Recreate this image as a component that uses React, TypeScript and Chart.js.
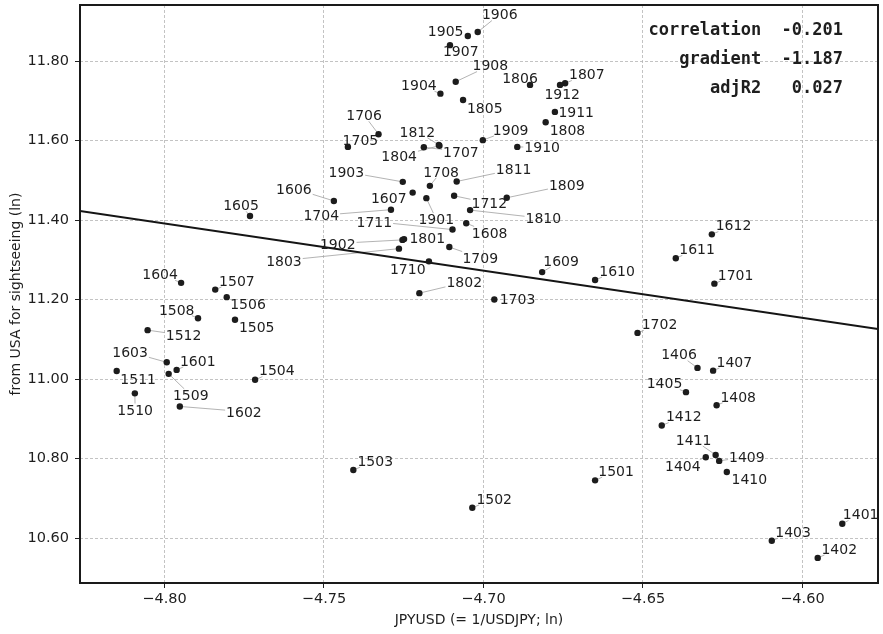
import React, { useEffect, useRef } from "react";
import { Chart, registerables } from "chart.js";

Chart.register(...registerables);

// ---- data -------------------------------------------------------------
const periods = [
  "1401", "1402", "1403", "1404", "1405", "1406", "1407", "1408", "1409", "1410", "1411", "1412",
  "1501", "1502", "1503", "1504", "1505", "1506", "1507", "1508", "1509", "1510", "1511", "1512",
  "1601", "1602", "1603", "1604", "1605", "1606", "1607", "1608", "1609", "1610", "1611", "1612",
  "1701", "1702", "1703", "1704", "1705", "1706", "1707", "1708", "1709", "1710", "1711", "1712",
  "1801", "1802", "1803", "1804", "1805", "1806", "1807", "1808", "1809", "1810", "1811", "1812",
  "1901", "1902", "1903", "1904", "1905", "1906", "1907", "1908", "1909", "1910", "1911", "1912",
];

// JPYUSD (= 1/USDJPY; ln)
const jpyusd = [
  -4.5875, -4.5952, -4.6096, -4.6303, -4.6365, -4.6329, -4.628, -4.6269, -4.6261, -4.6237, -4.6272, -4.6441,
  -4.665, -4.7035, -4.7408, -4.7716, -4.7779, -4.7805, -4.7841, -4.7895, -4.7987, -4.8093, -4.815, -4.8053,
  -4.7962, -4.7952, -4.7993, -4.7948, -4.7732, -4.7469, -4.7222, -4.7054, -4.6816, -4.665, -4.6397, -4.6284,
  -4.6276, -4.6517, -4.6966, -4.729, -4.7425, -4.7329, -4.7187, -4.7168, -4.7107, -4.7171, -4.7097, -4.7092,
  -4.7249, -4.7201, -4.7265, -4.7138, -4.7064, -4.6854, -4.6744, -4.6805, -4.6927, -4.7042, -4.7084, -4.714,
  -4.7179, -4.7254, -4.7253, -4.7135, -4.7049, -4.7018, -4.7105, -4.7087, -4.7002, -4.6894, -4.6776, -4.676,
];

// visitors from USA for sightseeing (ln)
const visitors = [
  10.636, 10.55, 10.593, 10.803, 10.967, 11.028, 11.021, 10.934, 10.794, 10.766, 10.809, 10.883,
  10.745, 10.676, 10.771, 10.998, 11.149, 11.206, 11.225, 11.153, 11.013, 10.964, 11.02, 11.123,
  11.023, 10.931, 11.042, 11.242, 11.41, 11.448, 11.469, 11.392, 11.269, 11.249, 11.304, 11.364,
  11.24, 11.116, 11.2, 11.426, 11.584, 11.616, 11.583, 11.486, 11.332, 11.296, 11.376, 11.461,
  11.352, 11.216, 11.328, 11.587, 11.702, 11.74, 11.744, 11.646, 11.456, 11.425, 11.497, 11.589,
  11.455, 11.35, 11.496, 11.718, 11.863, 11.873, 11.84, 11.748, 11.601, 11.584, 11.672, 11.74,
];

const xTicks = [-4.8, -4.75, -4.7, -4.65, -4.6];
const yTicks = [10.6, 10.8, 11.0, 11.2, 11.4, 11.6, 11.8];
const xRange = [-4.8265, -4.5763];
const yRange = [10.4868, 11.941];

const statNames = ["correlation", "gradient", "adjR2"];
const statValues = [-0.201, -1.187, 0.027];
const regressionGradient = -1.187;
const regressionIntercept = 5.694;

const xTitle = "JPYUSD (= 1/USDJPY; ln)";
const yTitle = "from USA for sightseeing (ln)";

// label placement (pixel offsets of label centre from its point; layout only)
const labelOffsets: [number, number][] = [
  [18.4, -9.5], [21.5, -9.2], [21.3, -9], [-22.9, 8.5], [-21.5, -8.8], [-18.5, -13.5],
  [21.2, -9], [21.6, -8.8], [27.7, -4.2], [22.5, 6.8], [-22, -15.2], [22, -9.2],
  [21, -9.5], [21.9, -9.2], [21.9, -9.2], [21.7, -9.5], [21.7, 7], [21.3, 6.9],
  [21.7, -8.9], [-21.3, -8.8], [22.1, 21.3], [0.3, 16.5], [21.5, 7.7], [36, 5.2],
  [21.1, -9.2], [64.1, 5.2], [-36.7, -10.3], [-21, -8.8], [-9, -11], [-40, -12.5],
  [-23.9, 5.3], [23.4, 9.5], [18.9, -11.2], [22, -9.2], [21.3, -9.1], [21.7, -9],
  [21.2, -8.9], [22, -8.8], [23.2, -0.5], [-69.7, 5.6], [12.5, -6.9], [-14.5, -19.2],
  [37.1, 4.2], [11.3, -14.3], [30.9, 10.8], [-21.2, 7.9], [-78.2, -8], [35.2, 7.5],
  [23.2, -1.5], [44.9, -10.8], [-115, 11.8], [-40.3, 10.3], [21.7, 7.5], [-10, -7.2],
  [21.7, -9.1], [21.8, 7.2], [60, -12.7], [73.3, 8.3], [57, -12.1], [-21.5, -13.5],
  [9.9, 21.2], [-64.7, 3.5], [-56.4, -10], [-21.5, -8.7], [-22.2, -5.2], [22, -17.8],
  [10.8, 6], [34.6, -16.4], [27.8, -10.5], [24.9, 0.5], [21.3, -0.4], [2.2, 9.2],
];

const FONT = "'DejaVu Sans', 'Liberation Sans', sans-serif";
const LABEL_SIZE = 14;
const TEXT_COLOR = "#1e1e1e";

const fmtTick = (v: number) => (v < 0 ? "\u2212" : "") + Math.abs(v).toFixed(2);

const labelPlugin = {
  id: "pointLabels",
  beforeDatasetsDraw(chart: any) {
    const meta = chart.getDatasetMeta(0);
    const ctx = chart.ctx;
    ctx.save();
    ctx.font = `${LABEL_SIZE}px ${FONT}`;
    ctx.strokeStyle = "#a0a0a0";
    ctx.lineWidth = 0.8;
    meta.data.forEach((pt: any, i: number) => {
      const [dx, dy] = labelOffsets[i];
      const cx = pt.x + dx;
      const cy = pt.y + dy;
      const hw = ctx.measureText(periods[i]).width / 2 + 1;
      const hh = LABEL_SIZE * 0.45;
      const vx = pt.x - cx;
      const vy = pt.y - cy;
      let t = 1;
      if (Math.abs(vx) > 1e-6) t = Math.min(t, hw / Math.abs(vx));
      if (Math.abs(vy) > 1e-6) t = Math.min(t, hh / Math.abs(vy));
      if (t >= 1) return;
      const sx = cx + vx * t;
      const sy = cy + vy * t;
      if (Math.hypot(pt.x - sx, pt.y - sy) < 6) return;
      ctx.beginPath();
      ctx.moveTo(sx, sy);
      ctx.lineTo(pt.x, pt.y);
      ctx.stroke();
    });
    ctx.restore();
  },
  afterDatasetsDraw(chart: any) {
    const meta = chart.getDatasetMeta(0);
    const ctx = chart.ctx;
    ctx.save();
    ctx.font = `${LABEL_SIZE}px ${FONT}`;
    ctx.fillStyle = TEXT_COLOR;
    ctx.textAlign = "center";
    ctx.textBaseline = "alphabetic";
    meta.data.forEach((pt: any, i: number) => {
      const [dx, dy] = labelOffsets[i];
      ctx.fillText(periods[i], pt.x + dx, pt.y + dy + LABEL_SIZE * 0.3645);
    });
    ctx.restore();
  },
  afterDraw(chart: any) {
    const { ctx, chartArea } = chart;
    ctx.save();
    ctx.strokeStyle = "#1a1a1a";
    ctx.lineWidth = 2;
    ctx.strokeRect(chartArea.left, chartArea.top, chartArea.right - chartArea.left, chartArea.bottom - chartArea.top);
    // statistics box
    ctx.font = "bold 17px 'DejaVu Sans Mono', 'Liberation Mono', monospace";
    ctx.fillStyle = TEXT_COLOR;
    ctx.textAlign = "right";
    ctx.textBaseline = "alphabetic";
    statNames.forEach((name, i) => {
      const v = statValues[i];
      const vs = v.toFixed(3).padStart(6, " ");
      ctx.fillText(`${name}  ${vs}`, chartArea.right - 35, 35 + i * 29.2);
    });
    ctx.restore();
  },
};

export default function App() {
  const canvasRef = useRef<HTMLCanvasElement | null>(null);

  useEffect(() => {
    document.body.style.margin = "0";
    document.body.style.overflow = "hidden";
    const canvas = canvasRef.current;
    if (!canvas) return;

    const points = periods.map((_, i) => ({ x: jpyusd[i], y: visitors[i] }));
    const line = xRange.map((x) => ({ x, y: regressionIntercept + regressionGradient * x }));

    const axisCommon = {
      type: "linear" as const,
      grid: {
        color: "#b4b4b4",
        lineWidth: 0.8,
        drawTicks: true,
        tickLength: 5,
        tickColor: "#222222",
        tickWidth: 1,
        tickBorderDash: [],
      },
      border: { display: false, dash: [3, 2] },
    };

    const chart = new Chart(canvas, {
      type: "scatter",
      data: {
        datasets: [
          {
            data: points,
            pointRadius: 3.2,
            pointBackgroundColor: "#1c1c1c",
            pointBorderWidth: 0,
            pointHoverRadius: 3.2,
          },
          {
            data: line,
            showLine: true,
            borderColor: "#151515",
            borderWidth: 2,
            pointRadius: 0,
            pointHoverRadius: 0,
          },
        ],
      },
      options: {
        animation: false,
        responsive: false,
        events: [],
        layout: { padding: { top: 5, right: 5, left: 0, bottom: 0 } },
        plugins: { legend: { display: false }, tooltip: { enabled: false } },
        scales: {
          x: {
            ...axisCommon,
            min: xRange[0],
            max: xRange[1],
            afterBuildTicks: (scale: any) => {
              scale.ticks = xTicks.map((value) => ({ value }));
            },
            afterFit: (scale: any) => {
              scale.height = 51;
              scale.paddingLeft = 0;
              scale.paddingRight = 0;
            },
            ticks: {
              color: TEXT_COLOR,
              font: { family: FONT, size: 14.5 },
              padding: 3,
              maxRotation: 0,
              callback: (v: any) => fmtTick(Number(v)),
            },
            title: {
              display: true,
              text: xTitle,
              color: TEXT_COLOR,
              font: { family: FONT, size: 14 },
              padding: { top: 0, bottom: 5.6 },
            },
          },
          y: {
            ...axisCommon,
            min: yRange[0],
            max: yRange[1],
            afterBuildTicks: (scale: any) => {
              scale.ticks = yTicks.map((value) => ({ value }));
            },
            afterFit: (scale: any) => {
              scale.width = 80;
              scale.paddingTop = 0;
              scale.paddingBottom = 0;
            },
            ticks: {
              color: TEXT_COLOR,
              font: { family: FONT, size: 14.5 },
              padding: 6,
              callback: (v: any) => fmtTick(Number(v)),
            },
            title: {
              display: true,
              text: yTitle,
              color: TEXT_COLOR,
              font: { family: FONT, size: 14 },
              padding: { top: 7.6, bottom: 0 },
            },
          },
        },
      },
      plugins: [labelPlugin],
    } as any);

    return () => chart.destroy();
  }, []);

  return (
    <div style={{ width: 883, height: 634 }}>
      <canvas ref={canvasRef} width={883} height={634} style={{ display: "block", width: 883, height: 634 }} />
    </div>
  );
}
